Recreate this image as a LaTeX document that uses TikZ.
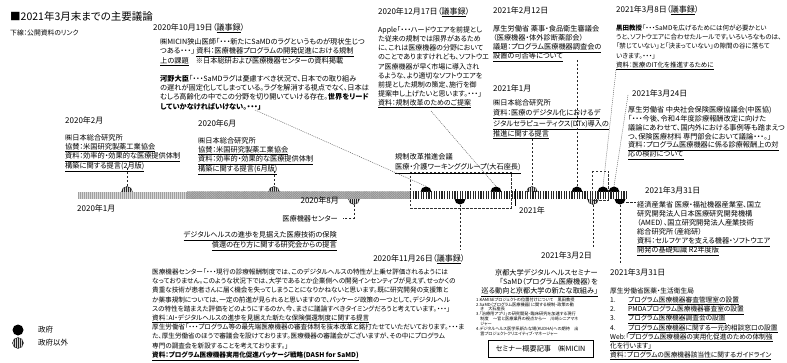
\documentclass[tikz,border=0pt]{standalone}
\usepackage{fontspec}
\setmainfont{Noto Sans CJK JP}[RawFeature={+palt}]
\usetikzlibrary{patterns.meta}
\newcommand{\ulk}[1]{\underline{#1}}
\begin{document}
\begin{tikzpicture}[x=1pt,y=-1pt,
  every node/.style={inner sep=0pt, text=black},
  body/.style={anchor=north west, align=left, font=\fontsize{7.2}{9.2}\selectfont},
  bodyr/.style={anchor=north east, align=right, font=\fontsize{7.2}{9}\selectfont},
  datel/.style={anchor=west, font=\fontsize{8}{9}\selectfont},
  dater/.style={anchor=east, font=\fontsize{8}{9}\selectfont},
  gov/.style={circle, fill=black, minimum size=11pt},
  ngov/.style={circle, minimum size=11pt, draw=black, line width=0.3pt, preaction={fill=gray!35}, pattern={Lines[angle=90,distance=2pt,line width=0.8pt]}, pattern color=black!85},
  vlink/.style={draw=black!85, line width=0.7pt, dash pattern=on 2.5pt off 1.5pt},
  dlink/.style={draw=black!60, line width=0.5pt, dash pattern=on 1pt off 1pt},
  wgbox/.style={draw=black!80, line width=0.6pt, dash pattern=on 2.5pt off 1.5pt},
]
\useasboundingbox (0,0) rectangle (787,363);

% title
\node[anchor=west, font=\fontsize{10.5}{12}\selectfont] (title) at (10,17) {■2021年3月末までの主要議論};
\node[anchor=west, font=\fontsize{6.8}{8}\selectfont] (note) at (10,33) {下線：公開資料のリンク};

% markers (drawn before bar)
\node[ngov] (m127) at (127,192) {};
\node[ngov] (m274) at (274,192) {};
\node[ngov] (m354) at (354,199) {};
\node[gov]  (m426) at (426,192) {};
\node[gov]  (m460) at (460,199) {};
\node[gov]  (m496) at (496,192) {};
\node[ngov] (m532) at (532,192) {};
\node[gov]  (m577) at (577,192) {};
\node[ngov] (m593) at (593,199) {};
\node[gov]  (m603) at (603,192) {};
\node[gov]  (m614) at (614,192) {};
\node[gov]  (m620) at (620,199) {};

% bar
\fill[gray!30] (78,192) rectangle (187,199);
\fill[pattern={Lines[angle=90,distance=2pt,line width=0.7pt]}, pattern color=gray!75] (78,192) rectangle (187,199);
\fill[gray!50] (187,192) rectangle (410,199);
\fill[pattern={Hatch[angle=45,distance=1.6pt,line width=0.5pt]}, pattern color=gray!85] (187,192) rectangle (410,199);
\fill[white] (410,192) rectangle (627,199);
\fill[pattern={Lines[angle=90,distance=2.6pt,line width=1.3pt]}, pattern color=black!85] (410,192) rectangle (627,199);
\draw[line width=0.8pt] (515,189) -- (515,206);

\node[anchor=west, font=\fontsize{8}{9}\selectfont] (y2020) at (77,208) {2020年1月};
\node[anchor=west, font=\fontsize{8}{9}\selectfont] (y2021) at (519,210) {2021年};

% working group boxes
\draw[wgbox] (410,172) rectangle (511,208);
\draw[wgbox] (592,171) rectangle (608,200);
\node[body] (bN) at (395,153.5) {規制改革推進会議\\[1pt]\ulk{医療・介護ワーキンググループ(大石座長)}};

% Block L 2020/2
\node[datel] (dL) at (65,120) {2020年2月};
\node[body, font=\fontsize{7.2}{8.5}\selectfont] (bL) at (65,134.5) {㈱日本総合研究所\\\ulk{協賛：米国研究製薬工業協会}\\\ulk{資料：効率的・効果的な医療提供体制}\\\ulk{構築に関する提言(2月版)}};
% Block M 2020/6
\node[datel] (dM) at (198,123) {2020年6月};
\node[body, font=\fontsize{7.2}{8.4}\selectfont] (bM) at (198,137.5) {㈱日本総合研究所\\\ulk{協賛：米国研究製薬工業協会}\\\ulk{資料：効率的・効果的な医療提供体制}\\\ulk{構築に関する提言(6月版)}};

% Block A 2020/10/19
\node[datel] (dA) at (153,28) {2020年10月19日（\ulk{議事録}）};
\node[body] (bA) at (160,38.5) {㈱MICIN狭山医師「・・・新たにSaMDのラグというものが現状生じつ\\つある・・・」 \ulk{資料：医療機器プログラムの開発促進における規制}\\\ulk{上の課題}　※日本総研および医療機器センターの資料掲載\\[9.2pt]\textbf{河野大臣}「・・・SaMDラグは憂慮すべき状況で、日本での取り組み\\の遅れが固定化してしまっている。ラグを解消する視点でなく、日本は\\むしろ高齢化の中でこの分野を切り開いていける存在。\textbf{世界をリード}\\\textbf{していかなければいけない。・・・」}};

% Block B 2020/12/17
\node[datel] (dB) at (378,12) {2020年12月17日（\ulk{議事録}）};
\node[body, font=\fontsize{7}{9.1}\selectfont] (bB) at (378,26.5) {Apple「・・・ハードウエアを前提とし\\た従来の規制では限界があるため\\に、これは医療機器の分野において\\のことでありますけれども、ソフトウエ\\ア医療機器が早く市場に導入され\\るような、より適切なソフトウエアを\\前提とした規制の策定、施行を御\\提案申し上げたいと思います。・・・」\\\ulk{資料：規制改革のためのご提案}};

% Block C 2021/2/12
\node[datel] (dC) at (493,10) {2021年2月12日};
\node[body, font=\fontsize{7.2}{9}\selectfont] (bC) at (493,25.5) {厚生労働省 薬事・食品衛生審議会\\（医療機器・体外診断薬部会）\\\ulk{議題：プログラム医療機器調査会の}\\\ulk{設置の可否等について}};

% Block D 2021/1
\node[datel] (dD) at (493,88) {2021年1月};
\node[body, font=\fontsize{7.2}{10.2}\selectfont] (bD) at (493,99.5) {㈱日本総合研究所\\\ulk{資料：医療のデジタル化におけるデ}\\\ulk{ジタルセラピューティクス(DTx)導入の}\\\ulk{推進に関する提言}};

% Block E 2021/3/8
\node[datel] (dE) at (616,10) {2021年3月8日（\ulk{議事録}）};
\node[body, font=\fontsize{6.5}{9.2}\selectfont] (bE) at (616,24.7) {\textbf{黒田教授}「・・・SaMDを広げるためには何が必要かとい\\うと、ソフトウエアに合わせたルールです。いろいろなものは、\\「禁じていない」と「決まっていない」の隙間の谷に落ちて\\いきます。・・・」\\\ulk{資料：医療のIT化を推進するために}};

% Block F 2021/3/24
\node[datel] (dF) at (632,93) {2021年3月24日};
\node[body, font=\fontsize{7.2}{8.8}\selectfont] (bF) at (628,106.5) {厚生労働省 中央社会保険医療協議会(中医協)\\「・・・今後、令和４年度診療報酬改定に向けた\\議論にあわせて、国内外における事例等も踏まえつ\\つ、保険医療材料 専門部会において議論・・・。」\\\ulk{資料：プログラム医療機器に係る診療報酬上の対}\\\ulk{応の検討について}};

% Block G 2021/3/31 METI
\node[datel] (dG) at (645,190) {2021年3月31日};
\node[body, font=\fontsize{7.2}{9}\selectfont] (bG) at (637,201.5) {経済産業省 医療・福祉機器産業室、国立\\研究開発法人日本医療研究開発機構\\（AMED）、国立研究開発法人産業技術\\総合研究所（産総研）\\\ulk{資料：セルフケアを支える機器・ソフトウエア}\\\ulk{開発の基礎知識 R2年度版}};

% Block H 2021/3/31 MHLW
\node[datel] (dH) at (610,272) {2021年3月31日};
\node[body, font=\fontsize{6.7}{9.15}\selectfont] (bH) at (610,287.7) {厚生労働省医薬・生活衛生局\\\makebox[18pt][l]{1.}\ulk{プログラム医療機器審査管理室の設置}\\\makebox[18pt][l]{2.}\ulk{PMDAプログラム医療機器審査室の設置}\\\makebox[18pt][l]{3.}\ulk{プログラム医療機器調査会の設置}\\\makebox[18pt][l]{4.}\ulk{プログラム医療機器に関する一元的相談窓口の設置}\\\ulk{Web:「プログラム医療機器の実用化促進のための体制強}\\\ulk{化を行います」}\\\ulk{資料：プログラムの医療機器該当性に関するガイドライン}};

% Block I 2021/3/2 Kyoto
\node[dater] (dI) at (592,255) {2021年3月2日};
\node[bodyr] (bI) at (598,269.5) {京都大学デジタルヘルスセミナー\\「SaMD（プログラム医療機器）を\\\ulk{巡る動向と京都大学の新たな取組み」}};
\node[body, font=\fontsize{4.2}{4.86}\selectfont] (sI) at (476,297.5) {1.KAMISEプロジェクトの位置付けについて　黒田教授\\2.SaMD（プログラム医療機器）に関する規制・政策の動\\　き　大石座長\\3.「治療用アプリ」の研究開発・臨床研究を加速する現行\\　制度　〜官と医療業界の視点から〜　川崎シニアマネ\\　ジャー\\4.デジタルヘルス医学系新たな場(KUDHA)への期待　出\\　雲プロジェクトクリエイティブ・マネージャー};
\node[draw=black, line width=0.6pt, minimum width=105pt, minimum height=17pt, font=\fontsize{7.2}{8}\selectfont] (sem) at (540.5,349) {セミナー概要記事　㈱MICIN};

% Block J 2020/11/26
\node[dater] (dJ) at (465,259) {2020年11月26日（\ulk{議事録}）};
\node[body, font=\fontsize{6.6}{9.2}\selectfont] (bJ) at (152,268.7) {医療機器センター「・・・現行の診療報酬制度では、このデジタルヘルスの特性が上乗せ評価されるようには\\なっておりません。このような状況下では、大学であるとか企業側への開発インセンティブが見えず、せっかくの\\貴重な技術が患者さんに届く機会を失ってしまうことになりかねないと思います。既に研究開発の支援策と\\か薬事規制については、一定の前進が見られると思いますので、パッケージ政策の一つとして、デジタルヘル\\スの特性を踏まえた評価をどのようにするのか、今、まさに議論すべきタイミングだろうと考えています。・・・」\\\ulk{資料：AI・デジタルヘルスの進歩を見据えた新たな保険償還制度に関する提言}\\厚生労働省「・・・プログラム等の最先端医療機器の審査体制を抜本改革と銘打たせていただいております。・・・ま\\た、厚生労働省のほうで審議会を設けております。医療機器の審議会がございますが、その中にプログラム\\専門の調査会を新設することを考えております。」\\\textbf{\ulk{資料：プログラム医療機器実用化促進パッケージ戦略(DASH for SaMD)}}};

% Block K 2020/8
\node[dater] (dK) at (339,200) {2020年8月};
\node[anchor=east, font=\fontsize{7.2}{8}\selectfont] (kK) at (338,219) {医療機器センター};
\node[bodyr, font=\fontsize{7.2}{10}\selectfont] (bK) at (337,231.5) {\ulk{デジタルヘルスの進歩を見据えた医療技術の保険}\\\ulk{償還の在り方に関する研究会からの提言}};

% legend
\node[gov] (lg1) at (18,330) {};
\node[ngov] (lg2) at (18,343) {};
\node[anchor=west, font=\fontsize{7.5}{8}\selectfont] (lt1) at (38,330) {政府};
\node[anchor=west, font=\fontsize{7.5}{8}\selectfont] (lt2) at (38,343) {政府以外};

% connectors
\coordinate (cL) at (127,168);
\coordinate (cM) at (274,171);
\coordinate (cK1) at (354,218);
\coordinate (cK2) at (343,218);
\coordinate (cA) at (255,110);
\coordinate (cB) at (431,111);
\coordinate (cD) at (532,139);
\coordinate (cC) at (577,60);
\coordinate (cE) at (616,70);
\coordinate (cF) at (628,95);
\coordinate (cJ) at (460,250);
\coordinate (cI) at (593,248);
\coordinate (cH) at (620,263);
\coordinate (cG0) at (626,202);
\coordinate (cG) at (636,202);
\draw[vlink] (cL) -- (m127.north);
\draw[vlink] (cM) -- (m274.north);
\draw[vlink] (m354.south) -- (cK1) -- (cK2);
\draw[dlink] (cA) -- (m426.north);
\draw[dlink] (cB) -- (m496.north);
\draw[vlink] (cD) -- (m532.north);
\draw[vlink] (cC) -- (m577.north);
\draw[dlink] (cE) -- (m603.north);
\draw[dlink] (cF) -- (m614.north);
\draw[vlink] (m460.south) -- (cJ);
\draw[vlink] (m593.south) -- (cI);
\draw[vlink] (m620.south) -- (cH);
\draw[vlink] (cG0) -- (cG);
\end{tikzpicture}
\end{document}
